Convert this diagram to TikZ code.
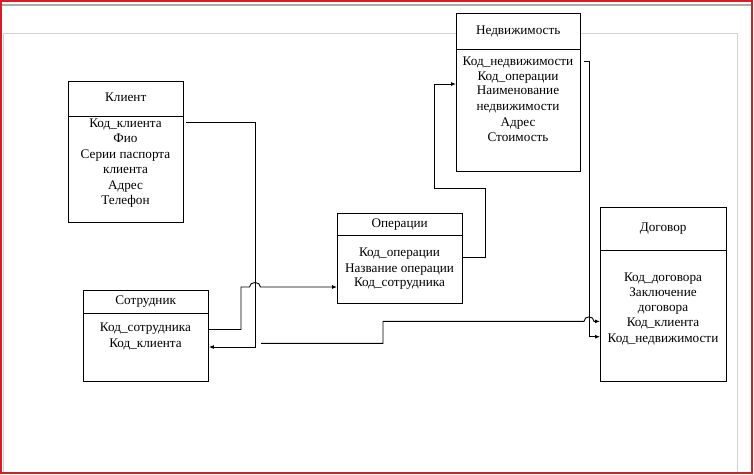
\documentclass[tikz,border=0pt]{standalone}
\usepackage{fontspec}
\setmainfont{Liberation Serif}
\usetikzlibrary{arrows.meta}
\definecolor{frame}{RGB}{200,35,40}
\newcommand{\dfont}{\fontsize{13.2}{15.5}\selectfont}
\tikzset{
  hdr/.style={fill=white, inner sep=0pt, anchor=north west,
    font=\dfont, text height=9.5pt, text depth=3pt},
  box/.style={draw, fill=white, line width=0.9pt, inner sep=0pt, anchor=north west},
  hdrline/.style={line width=0.9pt},
  row/.style={inner sep=0pt, font=\dfont, text height=9.5pt, text depth=3pt},
  conn/.style={line width=0.9pt},
  arr/.style={conn, -{Latex[length=5pt,width=4pt]}},
}
\begin{document}
\begin{tikzpicture}[x=1pt,y=-1pt]
\useasboundingbox (0,0) rectangle (754,474);
% window frame
\draw[gray!35, line width=0.9pt] (3,474) -- (3,33) -- (737,33) -- (737,474);
\draw[gray!65, line width=2pt] (2,4.5) -- (751,4.5);
\draw[frame, line width=1.6pt] (1,1) rectangle (752,473);

% Клиент
\node[hdr, minimum width=115pt, minimum height=35pt] (kh) at (68,81) {Клиент};
\node[box, minimum width=115pt, minimum height=106pt] (kb) at (kh.south west) {};
\draw[hdrline] (kh.south west) |- (kh.north east) -- (kh.south east);
\node[row] (k1) at (125.5,124.25) {Код\_клиента};
\node[row] (k2) at (125.5,139.25) {Фио};
\node[row] (k3) at (125.5,155.25) {Серии паспорта};
\node[row] (k4) at (125.5,170.25) {клиента};
\node[row] (k5) at (125.5,186.25) {Адрес};
\node[row] (k6) at (125.5,201.25) {Телефон};

% Сотрудник
\node[hdr, minimum width=125pt, minimum height=23pt] (sh) at (83,290) {Сотрудник};
\node[box, minimum width=125pt, minimum height=68pt] (sb) at (sh.south west) {};
\draw[hdrline] (sh.south west) |- (sh.north east) -- (sh.south east);
\node[row] (s1) at (145.5,328.5) {Код\_сотрудника};
\node[row] (s2) at (145.5,344) {Код\_клиента};

% Операции
\node[hdr, minimum width=125pt, minimum height=22pt] (oh) at (337,213) {Операции};
\node[box, minimum width=125pt, minimum height=68pt] (ob) at (oh.south west) {};
\draw[hdrline] (oh.south west) |- (oh.north east) -- (oh.south east);
\node[row] (o1) at (399.5,253.4) {Код\_операции};
\node[row] (o2) at (399.5,269) {Название операции};
\node[row] (o3) at (399.5,283.4) {Код\_сотрудника};

% Недвижимость
\node[hdr, minimum width=124pt, minimum height=36pt] (nh) at (456,13) {Недвижимость};
\node[box, minimum width=124pt, minimum height=122pt] (nb) at (nh.south west) {};
\draw[hdrline] (nh.south west) |- (nh.north east) -- (nh.south east);
\node[row] (n1) at (518,61.75) {Код\_недвижимости};
\node[row] (n2) at (518,76.75) {Код\_операции};
\node[row] (n3) at (518,91.5) {Наименование};
\node[row] (n4) at (518,107.5) {недвижимости};
\node[row] (n5) at (518,122.75) {Адрес};
\node[row] (n6) at (518,138) {Стоимость};

% Договор
\node[hdr, minimum width=126pt, minimum height=43pt] (dh) at (600,207) {Договор};
\node[box, minimum width=126pt, minimum height=131pt] (db) at (dh.south west) {};
\draw[hdrline] (dh.south west) |- (dh.north east) -- (dh.south east);
\node[row] (d1) at (663,278.4) {Код\_договора};
\node[row] (d2) at (663,292.75) {Заключение};
\node[row] (d3) at (663,308.4) {договора};
\node[row] (d4) at (663,323.4) {Код\_клиента};
\node[row] (d5) at (663,339) {Код\_недвижимости};

% helper verticals / horizontals
\coordinate (v1) at (255,0);
\coordinate (v2) at (241,0);
\coordinate (v3) at (485,0);
\coordinate (v4) at (434,0);
\coordinate (v5) at (589,0);
\coordinate (v6) at (383,0);
\coordinate (h1) at (0,188);

% Клиент -> Сотрудник
\path (k1 -| kb.east) ++(2,-2) coordinate (a1);
\path (s2 -| sb.east) ++(0,3) coordinate (a2);
\draw[arr] (a1) -- (a1 -| v1) -- (a2 -| v1) -- (a2);

% Сотрудник -> Операции (with hop)
\path (s1 -| sb.east) ++(0,1) coordinate (b1);
\path (o3 -| ob.west) ++(0,3.6) coordinate (b2);
\path (b2 -| v1) ++(-5.5,0) coordinate (hp1) ++(11,0) coordinate (hp2);
\draw[arr] (b1) -- (b1 -| v2) -- (b2 -| v2) -- (hp1)
  .. controls +(0,-6) and +(0,-6) .. (hp2) -- (b2);

% Операции -> Недвижимость
\path (o1 -| ob.east) ++(0,4) coordinate (c1);
\path (n2 -| nb.west) ++(0,7.25) coordinate (c2);
\draw[arr] (c1) -- (c1 -| v3) -- (h1 -| v3) -- (h1 -| v4) -- (c2 -| v4) -- (c2);

% Недвижимость -> Договор
\path (n1 -| nb.east) ++(3,-0.5) coordinate (ds);
\path (d5 -| db.west) ++(0,-2.3) coordinate (de);
\draw[arr] (ds) -- (ds -| v5) -- (de -| v5) -- (de);

% free line -> Договор (with hop)
\coordinate (e0) at (261,343.3);
\path (d4 -| db.west) ++(0,-2) coordinate (e1);
\path (e1 -| v5) ++(-5,0) coordinate (hq1) ++(10,0) coordinate (hq2);
\draw[arr] (e0) -- (e0 -| v6) -- (e1 -| v6) -- (hq1)
  .. controls +(0,-6) and +(0,-6) .. (hq2) -- (e1);
\end{tikzpicture}
\end{document}
